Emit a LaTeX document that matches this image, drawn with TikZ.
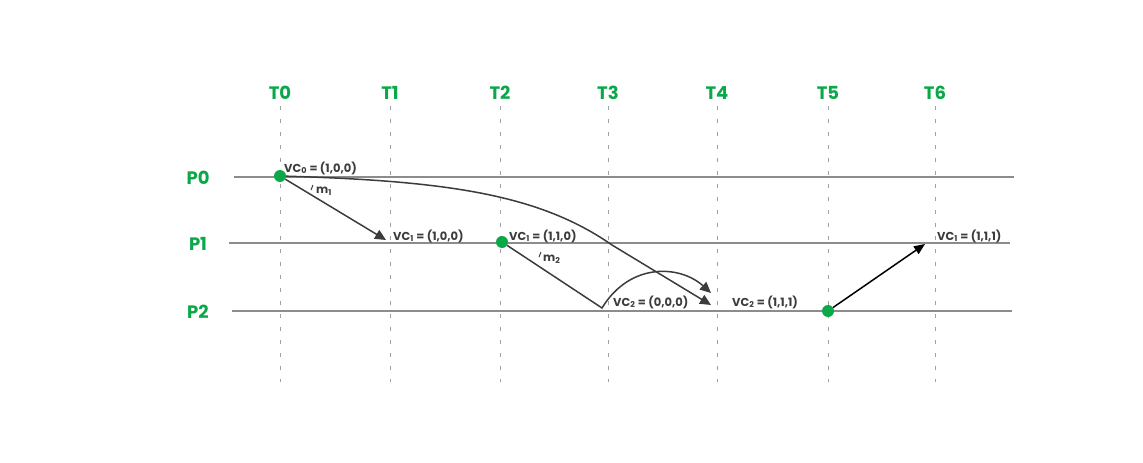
\documentclass[tikz,border=0pt]{standalone}
\usepackage{fontspec}
\setmainfont{Poppins}
\usetikzlibrary{positioning,arrows.meta}
\definecolor{ClockGreen}{HTML}{0BA84A}
\definecolor{LineGray}{HTML}{8C8C8C}
\definecolor{DashGray}{HTML}{A0A0A0}
\definecolor{MsgGray}{HTML}{3C3C3C}
\tikzset{
  tlabel/.style={text=ClockGreen, font=\bfseries\fontsize{18}{21}\selectfont, inner sep=0pt},
  tdash/.style={DashGray, line width=0.8pt, dash pattern=on 4pt off 9pt},
  proc/.style={LineGray, line width=1.7pt},
  event/.style={circle, fill=ClockGreen, minimum size=12pt, inner sep=0pt},
  vc/.style={anchor=west, text=MsgGray, font=\bfseries\fontsize{11.5}{13}\selectfont, inner sep=0pt},
  msg/.style={-{Triangle[length=11pt,width=10pt]}, MsgGray, line width=1.5pt},
  reply/.style={-{Triangle[length=11pt,width=9pt]}, black, line width=1.5pt},
  tickmark/.style={MsgGray, line width=1pt},
}

\begin{document}
\begin{tikzpicture}[x=1pt,y=-1pt]
  \useasboundingbox (0,0) rectangle (1143,463);
  % time columns
  \foreach \x [count=\i from 0] in {280,390,500,608,717,828,935}{
    \node[tlabel] (t\i) at (\x,93) {T\i};
    \coordinate (tb\i) at (\x,382);
    \draw[tdash] (t\i.south) ++(0,6) -- (tb\i);
  }
  % process lines
  \foreach \y/\xa/\xb [count=\i from 0] in {177/234/1014,243/229/1010,311/232/1012}{
    \node[tlabel] (p\i) at (198,\y+1) {P\i};
    \coordinate (ps\i) at (\xa,\y);
    \coordinate (pe\i) at (\xb,\y);
    \draw[proc] (ps\i) -- (pe\i);
  }
  % events
  \node[event] (e0) at (280,176) {};
  \node[event] (e1) at (502,242) {};
  \node[event] (e2) at (828,311) {};
  \coordinate (m1tip) at (386,240);
  \coordinate (bend) at (612,245);
  \coordinate (c1tip) at (711,305);
  \coordinate (low) at (602,308);
  \coordinate (c2tip) at (711,293);
  \coordinate (b1tip) at (925,244);
  % messages
  \draw[msg] (e0) -- (m1tip);
  \draw[msg] (e0) .. controls (450,181) and (540,195) .. (bend) -- (c1tip);
  \draw[msg] (e1) -- (low) .. controls (630,262) and (680,265) .. (c2tip);
  \draw[reply] (e2) -- (b1tip);
  % labels
  \draw[tickmark] (313,185) -- (311,190);
  \node[vc] (m1) at (316,191) {m\textsubscript{1}};
  \draw[tickmark] (541,252) -- (539,257);
  \node[vc] (m2) at (543,259) {m\textsubscript{2}};
  \node[vc] (vc0) at (284,168) {VC\textsubscript{0} = (1,0,0)};
  \node[vc] (vc1a) at (393,236) {VC\textsubscript{1} = (1,0,0)};
  \node[vc] (vc1b) at (509,236) {VC\textsubscript{1} = (1,1,0)};
  \node[vc] (vc2a) at (613,302) {VC\textsubscript{2} = (0,0,0)};
  \node[vc] (vc2b) at (732,302) {VC\textsubscript{2} = (1,1,1)};
  \node[vc] (vc1c) at (937,236) {VC\textsubscript{1} = (1,1,1)};
\end{tikzpicture}
\end{document}
